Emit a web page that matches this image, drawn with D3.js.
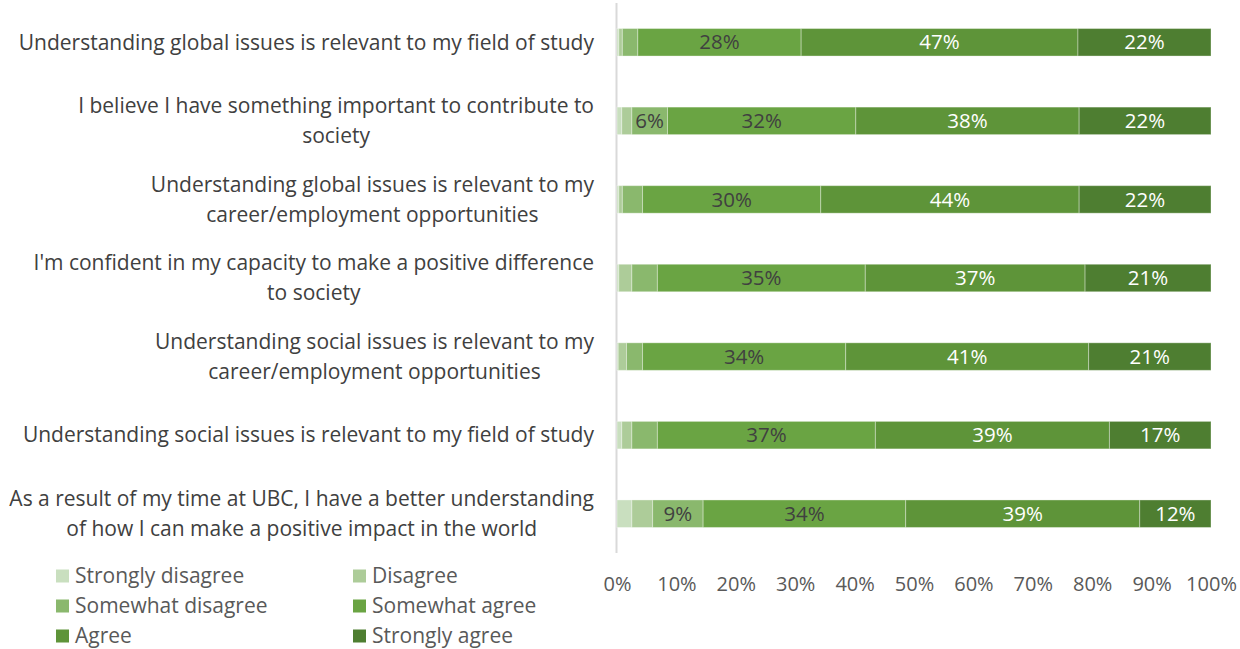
<!DOCTYPE html>
<html>
<head>
<meta charset="utf-8">
<script src="https://cdn.jsdelivr.net/npm/d3@7"></script>
<style>
  body { margin: 0; background: #fff; }
  svg text { font-family: "Open Sans", "Lato", sans-serif; }
</style>
</head>
<body>
<svg id="chart" width="1240" height="649"></svg>
<script>
// Survey statements, top to bottom ("\n" marks a line break in the label)
const categories = [
  "Understanding global issues is relevant to my field of study",
  "I believe I have something important to contribute to\nsociety",
  "Understanding global issues is relevant to my\ncareer/employment opportunities",
  "I'm confident in my capacity to make a positive difference\nto society",
  "Understanding social issues is relevant to my\ncareer/employment opportunities",
  "Understanding social issues is relevant to my field of study",
  "As a result of my time at UBC, I have a better understanding\nof how I can make a positive impact in the world"
];

const seriesNames = ["Strongly disagree", "Disagree", "Somewhat disagree", "Somewhat agree", "Agree", "Strongly agree"];

// Percent of respondents per response, one array per series (same order as categories)
const stronglyDisagree = [0.3, 0.8, 0.3, 0.3, 0.2, 0.8, 2.5];
const disagree         = [0.6, 1.7, 0.6, 2.2, 1.4, 1.7, 3.5];
const somewhatDisagree = [2.6, 6.0, 3.4, 4.3, 2.7, 4.3, 8.5];
const somewhatAgree    = [27.5, 31.7, 30.0, 35.0, 34.2, 36.7, 34.1];
const agree            = [46.6, 37.6, 43.5, 37.0, 40.9, 39.4, 39.4];
const stronglyAgree    = [22.4, 22.2, 22.2, 21.2, 20.6, 17.1, 12.0];

const xTicks = [0, 10, 20, 30, 40, 50, 60, 70, 80, 90, 100];

const colors = ["#c9dfbf", "#adcc99", "#8ab86d", "#6aa443", "#5e9439", "#4e7e31"];
const labelColors = ["#404040", "#404040", "#404040", "#404040", "#ffffff", "#ffffff"];

const LABEL_FONT = 21;
const VALUE_FONT = 20.5;
const TICK_FONT = 20;

const seriesValues = [stronglyDisagree, disagree, somewhatDisagree, somewhatAgree, agree, stronglyAgree];

const rows = categories.map((c, i) => {
  const r = { category: c };
  seriesNames.forEach((s, k) => { r[s] = seriesValues[k][i]; });
  return r;
});

const stacked = d3.stack().keys(seriesNames)(rows);

const svg = d3.select("#chart");

const x = d3.scaleLinear().domain([0, 100]).range([617, 1211]);
const y = d3.scaleBand().domain(categories).range([3, 553])
  .paddingInner(0.65).paddingOuter(0.325);

// vertical category axis line
svg.append("line")
  .attr("x1", x(0) - 0.5).attr("x2", x(0) - 0.5)
  .attr("y1", 3).attr("y2", 553)
  .attr("stroke", "#d9d9d9").attr("stroke-width", 2);

// stacked bar segments
const layer = svg.append("g").selectAll("g")
  .data(stacked).join("g")
  .attr("fill", (d, i) => colors[i]);

layer.selectAll("rect")
  .data(d => d.map(p => ({ p, key: d.key, idx: d.index })))
  .join("rect")
  .attr("x", d => x(d.p[0]))
  .attr("y", d => y(d.p.data.category))
  .attr("width", d => x(d.p[1]) - x(d.p[0]))
  .attr("height", y.bandwidth())
  .attr("stroke", "#ffffff")
  .attr("stroke-opacity", 0.35)
  .attr("stroke-width", 1);

// value labels (shown where the segment is wide enough)
layer.selectAll("text")
  .data(d => d.map(p => ({ p, idx: d.index })))
  .join("text")
  .filter(d => (d.p[1] - d.p[0]) >= 5)
  .attr("x", d => (x(d.p[0]) + x(d.p[1])) / 2)
  .attr("y", d => y(d.p.data.category) + y.bandwidth() / 2)
  .attr("dy", "0.35em")
  .attr("text-anchor", "middle")
  .attr("font-size", VALUE_FONT)
  .attr("fill", d => labelColors[d.idx])
  .text(d => Math.round(d.p[1] - d.p[0]) + "%");

// category labels: lines centred on each other, block right-aligned to the axis gap
const labelRight = 594;
const catLabels = svg.append("g").selectAll("text")
  .data(categories).join("text")
  .attr("text-anchor", "middle")
  .attr("font-size", LABEL_FONT)
  .attr("fill", "#404040");

catLabels.each(function (d) {
  const lines = d.split("\n");
  const lh = 30;
  const cy = y(d) + y.bandwidth() / 2;
  const start = cy - (lines.length - 1) * lh / 2;
  const t = d3.select(this);
  t.selectAll("tspan").data(lines).join("tspan")
    .attr("y", (l, i) => start + i * lh)
    .attr("dy", "0.35em")
    .text(l => l);
  let maxW = 0;
  t.selectAll("tspan").each(function () { maxW = Math.max(maxW, this.getComputedTextLength()); });
  t.selectAll("tspan").attr("x", labelRight - maxW / 2);
});

// percentage axis tick labels
const xAxis = d3.axisBottom(x).tickValues(xTicks).tickFormat(d => d + "%").tickSize(0);
const gx = svg.append("g").attr("transform", "translate(0, 574)").call(xAxis);
gx.select(".domain").remove();
gx.selectAll("text")
  .attr("font-size", TICK_FONT)
  .attr("fill", "#595959")
  .attr("font-family", "'Open Sans', Lato, sans-serif");

// legend
const legend = svg.append("g");
const legendItems = legend.selectAll("g").data(seriesNames).join("g")
  .attr("transform", (d, i) => `translate(${i % 2 === 0 ? 56 : 353}, ${576 + Math.floor(i / 2) * 30})`);
legendItems.append("rect")
  .attr("x", 0).attr("y", -6.5)
  .attr("width", 13).attr("height", 13)
  .attr("fill", (d, i) => colors[i]);
legendItems.append("text")
  .attr("x", 19).attr("dy", "0.35em")
  .attr("font-size", LABEL_FONT)
  .attr("fill", "#595959")
  .text(d => d);
</script>
</body>
</html>
